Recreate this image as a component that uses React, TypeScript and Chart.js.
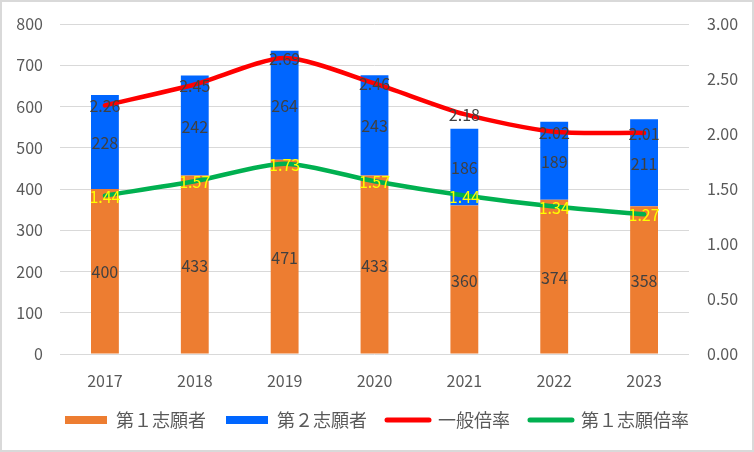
import { Chart, registerables } from "chart.js";
import { useEffect, useRef } from "react";

Chart.register(...registerables);

const years = ["2017", "2018", "2019", "2020", "2021", "2022", "2023"];
const firstChoice = [400, 433, 471, 433, 360, 374, 358];
const secondChoice = [228, 242, 264, 243, 186, 189, 211];
const generalRate = [2.26, 2.45, 2.69, 2.46, 2.18, 2.02, 2.01];
const firstRate = [1.44, 1.57, 1.73, 1.57, 1.44, 1.34, 1.27];

const FONT = "'Noto Sans CJK JP', 'Noto Sans', sans-serif";

// draws the value labels on bars and line points
const valueLabels = {
    id: "valueLabels",
    afterDatasetsDraw(chart: any) {
        const ctx = chart.ctx;
        ctx.save();
        ctx.font = `16px ${FONT}`;
        ctx.textAlign = "center";
        ctx.textBaseline = "middle";
        chart.data.datasets.forEach((ds: any, i: number) => {
            const meta = chart.getDatasetMeta(i);
            meta.data.forEach((el: any, j: number) => {
                const v = ds.data[j];
                if (ds.type === "bar") {
                    const { x, y, base } = el.getProps(["x", "y", "base"], true);
                    ctx.fillStyle = "#404040";
                    ctx.fillText(String(v), x, (y + base) / 2 + 1);
                } else {
                    ctx.fillStyle = ds.labelColor;
                    ctx.fillText(v.toFixed(2), el.x, el.y + 1);
                }
            });
        });
        ctx.restore();
    },
};

const frame = {
    id: "frame",
    afterDraw(chart: any) {
        const ctx = chart.ctx;
        ctx.save();
        ctx.strokeStyle = "#d9d9d9";
        ctx.lineWidth = 2;
        ctx.strokeRect(1, 1, chart.width - 2, chart.height - 2);
        ctx.restore();
    },
};

function ApplicantsChart() {
    const chartRef = useRef<HTMLCanvasElement>(null);
    const chartInstance = useRef<Chart | null>(null);

    useEffect(() => {
        if (chartInstance.current) { chartInstance.current.destroy() }
        const myChartRef = chartRef.current!.getContext("2d")!;

        chartInstance.current = new Chart(myChartRef, {
            type: "bar",
            data: {
                labels: years,
                datasets: [
                    {
                        type: "bar",
                        label: "第１志願者",
                        data: firstChoice,
                        backgroundColor: "#ED7D31",
                        yAxisID: "y",
                        order: 2,
                        barPercentage: 0.31,
                        categoryPercentage: 1,
                    },
                    {
                        type: "bar",
                        label: "第２志願者",
                        data: secondChoice,
                        backgroundColor: "#0066FF",
                        yAxisID: "y",
                        order: 2,
                        barPercentage: 0.31,
                        categoryPercentage: 1,
                    },
                    {
                        type: "line",
                        label: "一般倍率",
                        data: generalRate,
                        borderColor: "#FF0000",
                        backgroundColor: "#FF0000",
                        borderWidth: 4.5,
                        borderCapStyle: "round",
                        tension: 0.25,
                        pointRadius: 0,
                        yAxisID: "y1",
                        order: 1,
                        labelColor: "#404040",
                    } as any,
                    {
                        type: "line",
                        label: "第１志願倍率",
                        data: firstRate,
                        borderColor: "#00B050",
                        backgroundColor: "#00B050",
                        borderWidth: 4.5,
                        borderCapStyle: "round",
                        tension: 0.25,
                        pointRadius: 0,
                        yAxisID: "y1",
                        order: 1,
                        labelColor: "#FFFF00",
                    } as any,
                ],
            },
            options: {
                responsive: false,
                animation: false,
                layout: { padding: { top: 24, left: 0, right: 0, bottom: 13 } },
                scales: {
                    x: {
                        stacked: true,
                        grid: { display: false, drawTicks: false },
                        border: { display: false },
                        ticks: { color: "#595959", font: { family: FONT, size: 16 }, padding: 17 },
                        afterFit: (s: any) => { s.height = 37 },
                    },
                    y: {
                        stacked: true,
                        min: 0,
                        max: 800,
                        grid: { color: "#d9d9d9", drawTicks: false },
                        border: { display: false },
                        ticks: { stepSize: 100, color: "#595959", font: { family: FONT, size: 16 }, padding: 17 },
                        afterFit: (s: any) => { s.width = 60; s.paddingTop = 0; s.paddingBottom = 0 },
                    },
                    y1: {
                        position: "right",
                        min: 0,
                        max: 3,
                        grid: { display: false, drawTicks: false },
                        border: { display: false },
                        ticks: {
                            stepSize: 0.5,
                            color: "#595959",
                            font: { family: FONT, size: 16 },
                            padding: 18,
                            callback: (v: any) => Number(v).toFixed(2),
                        },
                        afterFit: (s: any) => { s.width = 65; s.paddingTop = 0; s.paddingBottom = 0 },
                    },
                },
                plugins: {
                    tooltip: { enabled: false },
                    legend: {
                        position: "bottom",
                        labels: {
                            color: "#595959",
                            font: { family: FONT, size: 18 },
                            usePointStyle: true,
                            pointStyleWidth: 42,
                            boxHeight: 8,
                            padding: 20,
                            sort: (a: any, b: any) => a.datasetIndex - b.datasetIndex,
                            generateLabels: (chart: any) =>
                                chart.data.datasets.map((ds: any, i: number) => ({
                                    text: ds.label,
                                    datasetIndex: i,
                                    fillStyle: ds.backgroundColor,
                                    strokeStyle: ds.type === "line" ? ds.borderColor : ds.backgroundColor,
                                    lineWidth: ds.type === "line" ? 5 : 0,
                                    lineCap: "round",
                                    pointStyle: ds.type === "line" ? "line" : "rect",
                                    fontColor: "#595959",
                                    hidden: false,
                                })),
                        },
                    },
                },
            },
            plugins: [valueLabels, frame],
        });
        return () => {
            if (chartInstance.current) {
                chartInstance.current.destroy();
                chartInstance.current = null;
            }
        };
    }, []);

    return (
        <div style={{ position: "absolute", left: 0, top: 0, width: 754, height: 452, background: "#fff" }}>
            <canvas ref={chartRef} width={754} height={452} />
        </div>
    );
}

export default function App() {
    return <ApplicantsChart />;
}
